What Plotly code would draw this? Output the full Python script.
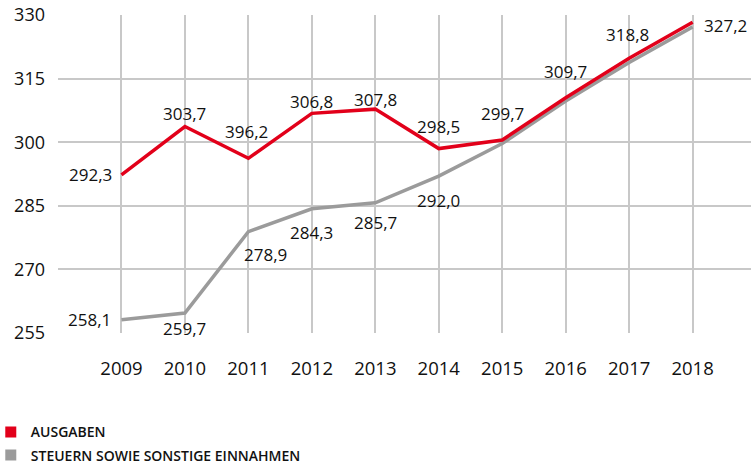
import plotly.graph_objects as go

years = [2009, 2010, 2011, 2012, 2013, 2014, 2015, 2016, 2017, 2018]
ausgaben = [292.3, 303.7, 296.2, 306.8, 307.8, 298.5, 300.5, 310.5, 319.8, 328.3]
einnahmen = [258.1, 259.7, 278.9, 284.3, 285.7, 292.0, 299.7, 309.7, 318.8, 327.2]

# label texts as printed in the chart
upper_labels = ["292,3", "303,7", "396,2", "306,8", "307,8", "298,5", "299,7", "309,7", "318,8", "327,2"]
lower_labels = ["258,1", "259,7", "278,9", "284,3", "285,7", "292,0"]

y_ticks = [255, 270, 285, 300, 315, 330]

RED = "#e2001a"
GRAY = "#9b9b9b"
GRID = "#c8c8c8"
FONT = "Open Sans"

fig = go.Figure()
fig.add_trace(go.Scatter(x=years, y=einnahmen, mode="lines",
                         line=dict(color=GRAY, width=3.5), showlegend=False, hoverinfo="skip"))
fig.add_trace(go.Scatter(x=years, y=ausgaben, mode="lines",
                         line=dict(color=RED, width=3.5), showlegend=False, hoverinfo="skip"))
# legend entries
fig.add_trace(go.Scatter(x=[None], y=[None], mode="markers", name="AUSGABEN", legendgroup="a",
                         marker=dict(symbol="square", color=RED, size=11)))
fig.add_trace(go.Scatter(x=[None], y=[None], mode="markers", name="STEUERN SOWIE SONSTIGE EINNAHMEN",
                         legendgroup="b", marker=dict(symbol="square", color=GRAY, size=11)))

# label placement styles (pixel offsets)
upper_style = [("right", -7, 0), ("center", 0, 13), ("center", -2, 27), ("center", 0, 12),
               ("center", 0, 10), ("center", 0, 22), ("center", 0, 27), ("center", 0, 26),
               ("center", -2, 24), ("left", 9, -3)]
lower_style = [("right", -8, 0), ("center", 0, -15), ("center", 17, -23), ("center", 0, -24),
               ("center", 0, -20), ("center", 0, -24)]

for i, txt in enumerate(upper_labels):
    xa, xs, ys = upper_style[i]
    fig.add_annotation(x=years[i], y=ausgaben[i], text=txt, showarrow=False,
                       xanchor=xa, yanchor="middle", xshift=xs, yshift=ys,
                       font=dict(family=FONT, size=17, color="#111"))
for i, txt in enumerate(lower_labels):
    xa, xs, ys = lower_style[i]
    fig.add_annotation(x=years[i], y=einnahmen[i], text=txt, showarrow=False,
                       xanchor=xa, yanchor="middle", xshift=xs, yshift=ys,
                       font=dict(family=FONT, size=17, color="#111"))

fig.update_layout(
    width=751, height=465,
    margin=dict(l=58, r=0, t=15, b=132, autoexpand=False),
    paper_bgcolor="white", plot_bgcolor="white",
    font=dict(family=FONT, color="#111"),
    legend=dict(x=-0.097, xanchor="left", y=-0.262, yanchor="top",
                font=dict(family=FONT, size=14, color="#111", weight=600),
                itemwidth=30, tracegroupgap=2, bgcolor="rgba(0,0,0,0)"),
    xaxis=dict(range=[2008, 2018.92], tickmode="array", tickvals=[2008] + years,
               ticktext=[""] + [str(y) for y in years], showgrid=True, gridcolor=GRID,
               gridwidth=1.5, zeroline=False, showline=False, ticks="", ticklabelstandoff=22,
               tickfont=dict(family=FONT, size=18.5, color="#111")),
    yaxis=dict(range=[255, 330], tickvals=y_ticks, gridcolor=GRID, gridwidth=1.5,
               zeroline=False, showline=False, ticks="", ticklabelstandoff=12,
               tickfont=dict(family=FONT, size=18, color="#111")),
)

fig.write_html("out.html")
